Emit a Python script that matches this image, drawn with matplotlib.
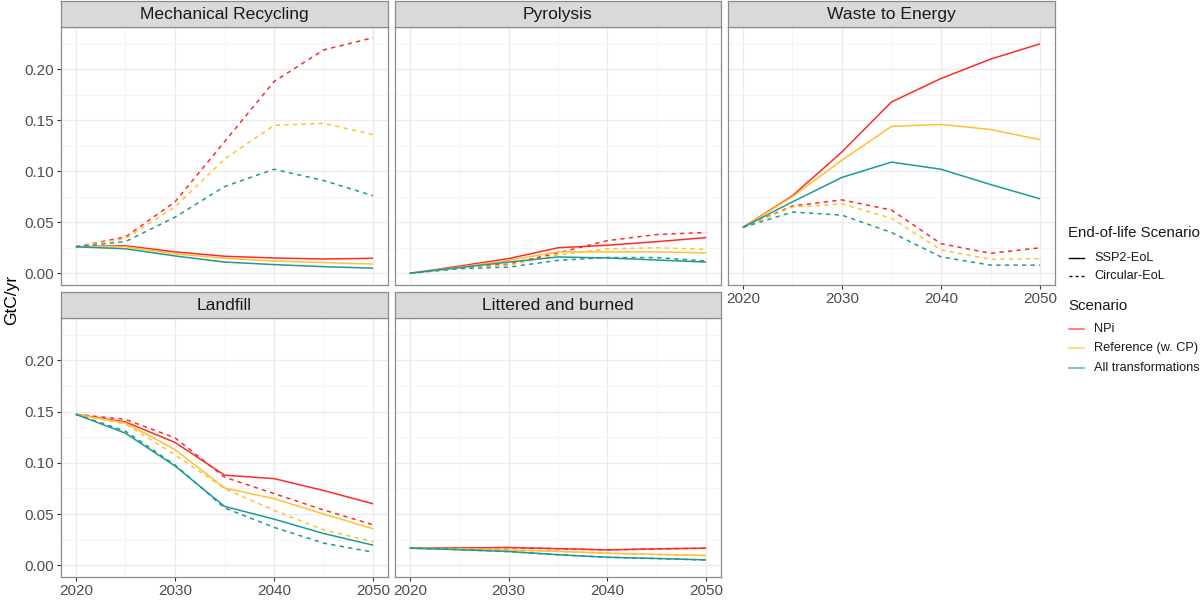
import matplotlib.pyplot as plt
import numpy as np
from matplotlib.lines import Line2D

plt.rcParams['font.family'] = ['Liberation Sans', 'DejaVu Sans']

#====================DATA====================

years = [2020, 2025, 2030, 2035, 2040, 2045, 2050]
scenarios = ["NPi", "Reference (w. CP)", "All transformations"]
eol_scenarios = ["SSP2-EoL", "Circular-EoL"]
facets = ["Mechanical Recycling", "Pyrolysis", "Waste to Energy", "Landfill", "Littered and burned"]

# GtC/yr, one list per scenario in the order NPi, Reference, All transformations
mech_ssp2 = [
    [0.026, 0.027, 0.021, 0.0167, 0.015, 0.014, 0.0147],
    [0.026, 0.026, 0.019, 0.0147, 0.012, 0.0105, 0.009],
    [0.026, 0.024, 0.017, 0.011, 0.0085, 0.0065, 0.005],
]
mech_circ = [
    [0.026, 0.0356, 0.070, 0.129, 0.188, 0.219, 0.231],
    [0.026, 0.034, 0.065, 0.112, 0.145, 0.147, 0.136],
    [0.026, 0.031, 0.055, 0.085, 0.102, 0.091, 0.076],
]
pyro_ssp2 = [
    [0.0, 0.007, 0.0144, 0.025, 0.0275, 0.031, 0.035],
    [0.0, 0.006, 0.0127, 0.021, 0.021, 0.021, 0.020],
    [0.0, 0.0055, 0.011, 0.016, 0.015, 0.013, 0.011],
]
pyro_circ = [
    [0.0, 0.0055, 0.009, 0.020, 0.032, 0.038, 0.040],
    [0.0, 0.005, 0.008, 0.018, 0.024, 0.025, 0.0235],
    [0.0, 0.0045, 0.006, 0.0127, 0.0154, 0.0154, 0.012],
]
wte_ssp2 = [
    [0.045, 0.076, 0.119, 0.168, 0.191, 0.210, 0.225],
    [0.045, 0.075, 0.111, 0.144, 0.146, 0.141, 0.131],
    [0.045, 0.070, 0.094, 0.109, 0.102, 0.087, 0.073],
]
wte_circ = [
    [0.045, 0.066, 0.072, 0.062, 0.029, 0.0196, 0.025],
    [0.045, 0.065, 0.068, 0.054, 0.023, 0.0137, 0.0144],
    [0.045, 0.060, 0.057, 0.040, 0.016, 0.008, 0.008],
]
landfill_ssp2 = [
    [0.1474, 0.140, 0.120, 0.088, 0.0846, 0.073, 0.060],
    [0.1474, 0.139, 0.113, 0.0755, 0.065, 0.050, 0.0356],
    [0.1474, 0.129, 0.097, 0.0575, 0.045, 0.031, 0.0196],
]
landfill_circ = [
    [0.1474, 0.1425, 0.1245, 0.086, 0.070, 0.054, 0.0395],
    [0.1474, 0.138, 0.108, 0.075, 0.0536, 0.0346, 0.023],
    [0.1474, 0.131, 0.098, 0.056, 0.037, 0.0216, 0.0127],
]
litter_ssp2 = [
    [0.0167, 0.0169, 0.0173, 0.0162, 0.015, 0.016, 0.0167],
    [0.0167, 0.016, 0.015, 0.0135, 0.0118, 0.0105, 0.0095],
    [0.0167, 0.0152, 0.0134, 0.0103, 0.0078, 0.0066, 0.0052],
]
litter_circ = [
    [0.0167, 0.0169, 0.0172, 0.0161, 0.0149, 0.0159, 0.0166],
    [0.0167, 0.016, 0.015, 0.0134, 0.0117, 0.0104, 0.0094],
    [0.0167, 0.0152, 0.0133, 0.0102, 0.0077, 0.0065, 0.0051],
]

facet_data = {
    "Mechanical Recycling": (mech_ssp2, mech_circ),
    "Pyrolysis": (pyro_ssp2, pyro_circ),
    "Waste to Energy": (wte_ssp2, wte_circ),
    "Landfill": (landfill_ssp2, landfill_circ),
    "Littered and burned": (litter_ssp2, litter_circ),
}

colors = ["#FF2B2B", "#FFC133", "#1E9A96"]
dash = (0, (2.8, 2.8))

#====================LAYOUT====================

W, H = 1203, 600
fig = plt.figure(figsize=(W / 100, H / 100), dpi=100)

col_x = [(61, 388), (395, 721), (728, 1055)]
row_y = [((1, 27), (27, 285)), ((292, 318), (318, 577))]
positions = [(0, 0), (0, 1), (0, 2), (1, 0), (1, 1)]


def rect(x0, x1, y0, y1):
    return [x0 / W, 1 - y1 / H, (x1 - x0) / W, (y1 - y0) / H]


def fx(px):
    return px / W


def fy(px):
    return 1 - px / H


border = "#8C8C8C"

for name, (r, c) in zip(facets, positions):
    (sy0, sy1), (py0, py1) = row_y[r]
    x0, x1 = col_x[c]

    ax = fig.add_axes(rect(x0, x1, py0, py1))
    ssp2, circ = facet_data[name]
    for i in range(3):
        ax.plot(years, ssp2[i], color=colors[i], lw=1.1, solid_capstyle="butt")
        ax.plot(years, circ[i], color=colors[i], lw=1.1, linestyle=dash)

    ax.set_xlim(2018.5, 2051.5)
    ax.set_ylim(-0.0115, 0.2415)
    ax.set_xticks([2020, 2030, 2040, 2050])
    ax.set_xticks([2025, 2035, 2045], minor=True)
    ax.set_yticks([0, 0.05, 0.10, 0.15, 0.20])
    ax.set_yticks([0.025, 0.075, 0.125, 0.175, 0.225], minor=True)
    ax.grid(True, which="major", color="#EBEBEB", lw=1.0)
    ax.grid(True, which="minor", color="#F2F2F2", lw=0.6)
    ax.set_axisbelow(True)
    for s in ax.spines.values():
        s.set_color(border)
        s.set_linewidth(0.9)

    show_y = c == 0
    show_x = r == 1 or c == 2
    ax.tick_params(which="minor", length=0)
    ax.tick_params(axis="y", which="major", length=3 if show_y else 0, color="#333333",
                   labelleft=show_y, labelsize=11, labelcolor="#4D4D4D", pad=2)
    ax.tick_params(axis="x", which="major", length=3 if show_x else 0, color="#333333",
                   labelbottom=show_x, labelsize=11, labelcolor="#4D4D4D", pad=2)
    ax.yaxis.set_major_formatter(plt.FuncFormatter(lambda v, p: f"{v:.2f}"))

    strip = fig.add_axes(rect(x0, x1, sy0, sy1))
    strip.set_facecolor("#D9D9D9")
    strip.set_xticks([])
    strip.set_yticks([])
    for s in strip.spines.values():
        s.set_color(border)
        s.set_linewidth(0.9)
    strip.text(0.5, 0.47, name, ha="center", va="center", fontsize=12.6, color="#1A1A1A",
               transform=strip.transAxes)

fig.text(fx(12), fy(300), "GtC/yr", rotation=90, ha="center", va="center",
         fontsize=12.5, color="black")

#====================LEGENDS====================

def legend_block(title, title_y, labels, rows_y, styles):
    fig.text(fx(1068), fy(title_y), title, ha="left", va="center",
             fontsize=10.8, color="#1A1A1A")
    for label, y, style in zip(labels, rows_y, styles):
        fig.add_artist(Line2D([fx(1069), fx(1084)], [fy(y), fy(y)],
                              transform=fig.transFigure, **style))
        fig.text(fx(1094), fy(y), label, ha="left", va="center",
                 fontsize=9.2, color="#1A1A1A")


legend_block("End-of-life Scenario", 233, eol_scenarios, [258, 276],
             [dict(color="black", lw=1.0),
              dict(color="black", lw=1.0, linestyle=(0, (2.2, 2.2)))])
legend_block("Scenario", 306, scenarios, [329, 348, 368],
             [dict(color=c, lw=1.1, alpha=0.75) for c in colors])

fig.savefig("out.png", dpi=100)
